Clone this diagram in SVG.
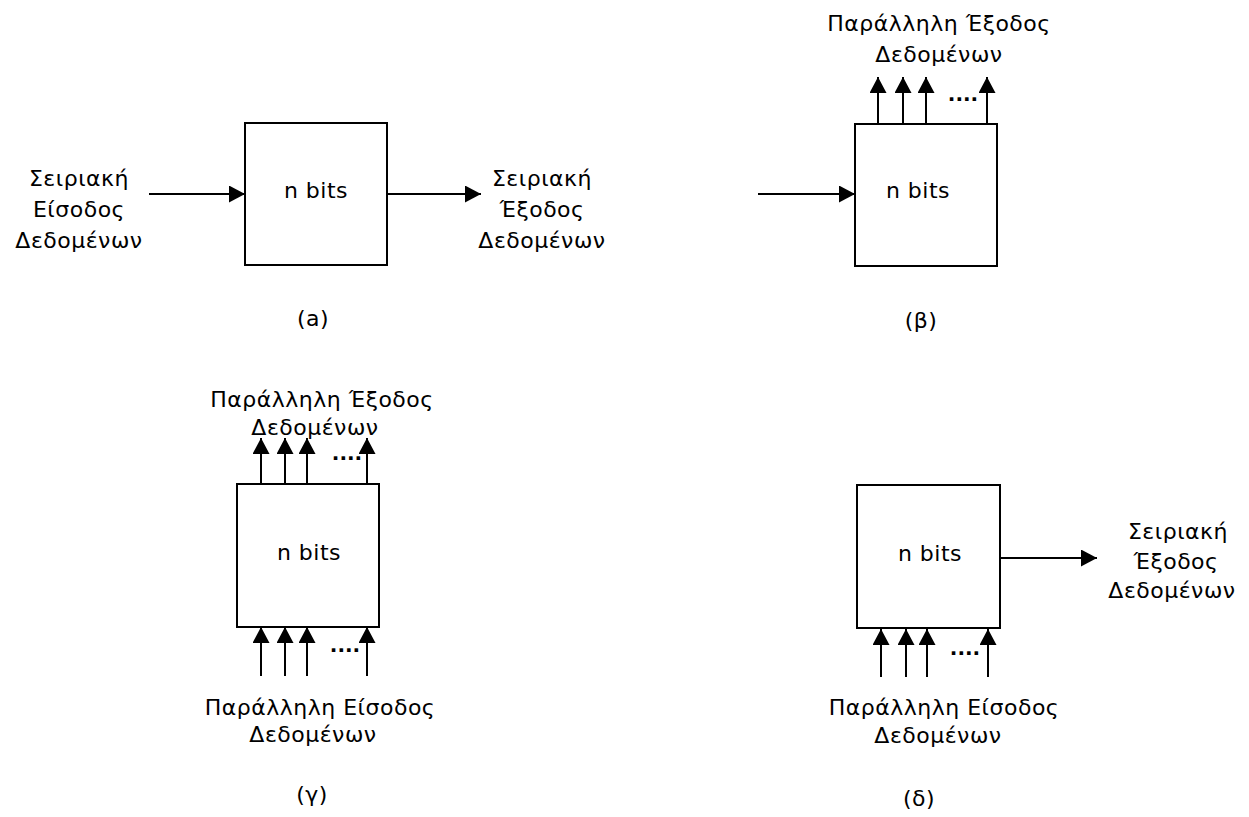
<svg xmlns="http://www.w3.org/2000/svg" width="1249" height="817" viewBox="0 0 1249 817">
<defs>
<style>
text{font-family:"DejaVu Sans","Noto Sans",sans-serif;font-size:22px;fill:#000;text-anchor:middle;letter-spacing:0.5px}
.box{fill:#fff;stroke:#000;stroke-width:2}
.ln{stroke:#000;stroke-width:2;fill:none}
.dots{font-weight:bold;letter-spacing:0;font-size:20px}
</style>
<marker id="ah" viewBox="0 0 16 17" refX="16" refY="8.5" markerWidth="16" markerHeight="17" markerUnits="userSpaceOnUse" orient="auto">
<path d="M0,0 L16,8.5 L0,17 Z" fill="#000"/>
</marker>
</defs>
<rect width="1249" height="817" fill="#fff"/>

<g id="connectors">
<!-- (a) -->
<line class="ln" x1="149" y1="194" x2="245" y2="194" marker-end="url(#ah)"/>
<line class="ln" x1="387" y1="194" x2="481" y2="194" marker-end="url(#ah)"/>
<!-- (β) -->
<line class="ln" x1="758" y1="194" x2="855" y2="194" marker-end="url(#ah)"/>
<line class="ln" x1="878" y1="124" x2="878" y2="77" marker-end="url(#ah)"/>
<line class="ln" x1="903" y1="124" x2="903" y2="77" marker-end="url(#ah)"/>
<line class="ln" x1="926" y1="124" x2="926" y2="77" marker-end="url(#ah)"/>
<line class="ln" x1="987" y1="124" x2="987" y2="77" marker-end="url(#ah)"/>
<!-- (γ) -->
<line class="ln" x1="261" y1="484" x2="261" y2="438" marker-end="url(#ah)"/>
<line class="ln" x1="285" y1="484" x2="285" y2="438" marker-end="url(#ah)"/>
<line class="ln" x1="307" y1="484" x2="307" y2="438" marker-end="url(#ah)"/>
<line class="ln" x1="367" y1="484" x2="367" y2="438" marker-end="url(#ah)"/>
<line class="ln" x1="261" y1="676" x2="261" y2="627" marker-end="url(#ah)"/>
<line class="ln" x1="285" y1="676" x2="285" y2="627" marker-end="url(#ah)"/>
<line class="ln" x1="307" y1="676" x2="307" y2="627" marker-end="url(#ah)"/>
<line class="ln" x1="367" y1="676" x2="367" y2="627" marker-end="url(#ah)"/>
<!-- (δ) -->
<line class="ln" x1="1000" y1="558" x2="1097" y2="558" marker-end="url(#ah)"/>
<line class="ln" x1="881" y1="677" x2="881" y2="629" marker-end="url(#ah)"/>
<line class="ln" x1="906" y1="677" x2="906" y2="629" marker-end="url(#ah)"/>
<line class="ln" x1="927" y1="677" x2="927" y2="629" marker-end="url(#ah)"/>
<line class="ln" x1="988" y1="677" x2="988" y2="629" marker-end="url(#ah)"/>
</g>

<g id="node-a">
<rect class="box" x="245" y="123" width="142" height="142"/>
<text x="316" y="198">n bits</text>
<text x="79" y="186">Σειριακή</text>
<text x="79" y="217">Είσοδος</text>
<text x="79" y="248">Δεδομένων</text>
<text x="542" y="186">Σειριακή</text>
<text x="542" y="217">Έξοδος</text>
<text x="542" y="248">Δεδομένων</text>
<text x="313" y="326">(a)</text>
</g>

<g id="node-b">
<rect class="box" x="855" y="124" width="142" height="142"/>
<text x="918" y="198">n bits</text>
<text x="939" y="31">Παράλληλη Έξοδος</text>
<text x="939" y="62">Δεδομένων</text>
<text class="dots" x="963" y="101">....</text>
<text x="921" y="328">(β)</text>
</g>

<g id="node-c">
<rect class="box" x="237" y="484" width="142" height="143"/>
<text x="309" y="560">n bits</text>
<text x="322" y="407">Παράλληλη Έξοδος</text>
<text x="315" y="435">Δεδομένων</text>
<text class="dots" x="347" y="460">....</text>
<text class="dots" x="345" y="652">....</text>
<text x="320" y="715">Παράλληλη Είσοδος</text>
<text x="313" y="742">Δεδομένων</text>
<text x="312" y="802">(γ)</text>
</g>

<g id="node-d">
<rect class="box" x="857" y="485" width="143" height="143"/>
<text x="930" y="561">n bits</text>
<text x="1178" y="539">Σειριακή</text>
<text x="1176" y="569">Έξοδος</text>
<text x="1172" y="598">Δεδομένων</text>
<text class="dots" x="965" y="655">....</text>
<text x="944" y="715">Παράλληλη Είσοδος</text>
<text x="938" y="743">Δεδομένων</text>
<text x="919" y="806">(δ)</text>
</g>
</svg>
